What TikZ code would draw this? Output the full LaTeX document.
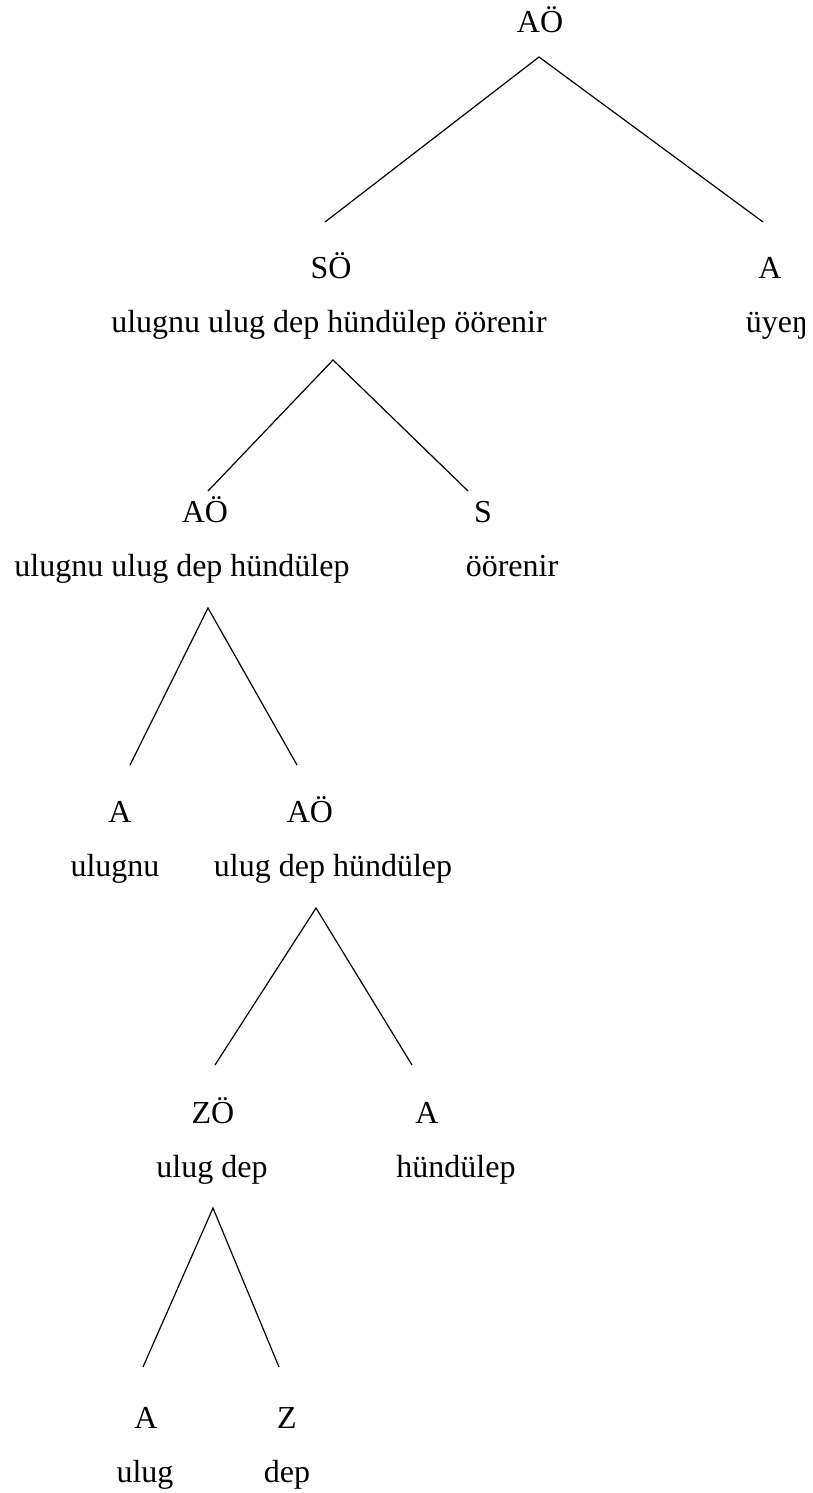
\documentclass[tikz,border=0pt]{standalone}
\usepackage{fontspec}
\setmainfont{Liberation Serif}
\begin{document}
\begin{tikzpicture}[x=0.75pt,y=-0.75pt,
  lbl/.style={anchor=base,inner sep=0pt,font=\fontsize{24}{28}\selectfont},
  edge/.style={draw=black,line width=0.9pt}]
\useasboundingbox (0,0) rectangle (813,1493);
% row 0
\node[lbl] (r) at (540,32) {AÖ};
% row 1
\node[lbl] (so) at (331,278) {SÖ};
\node[lbl] (sow) at (329,332) {ulugnu ulug dep hündülep öörenir};
\node[lbl] (a1) at (770,278) {A};
\node[lbl] (a1w) at (777,332) {üyeŋ};
% row 2
\node[lbl] (ao2) at (205,522) {AÖ};
\node[lbl] (ao2w) at (182,576) {ulugnu ulug dep hündülep};
\node[lbl] (s2) at (483,522) {S};
\node[lbl] (s2w) at (512,576) {öörenir};
% row 3
\node[lbl] (a3) at (120,822) {A};
\node[lbl] (a3w) at (115,876) {ulugnu};
\node[lbl] (ao3) at (310,822) {AÖ};
\node[lbl] (ao3w) at (333,876) {ulug dep hündülep};
% row 4
\node[lbl] (zo4) at (213,1123) {ZÖ};
\node[lbl] (zo4w) at (212,1177) {ulug dep};
\node[lbl] (a4) at (427,1123) {A};
\node[lbl] (a4w) at (456,1177) {hündülep};
% row 5
\node[lbl] (a5) at (146,1428) {A};
\node[lbl] (a5w) at (145,1482) {ulug};
\node[lbl] (z5) at (287,1428) {Z};
\node[lbl] (z5w) at (287,1482) {dep};
% branch points
\coordinate (p0) at (539,57);
\coordinate (p0l) at (325,222);
\coordinate (p0r) at (763,222);
\coordinate (p1) at (333,360);
\coordinate (p1l) at (208,491);
\coordinate (p1r) at (468,491);
\coordinate (p2) at (208,608);
\coordinate (p2l) at (130,765);
\coordinate (p2r) at (297,765);
\coordinate (p3) at (316,908);
\coordinate (p3l) at (215,1065);
\coordinate (p3r) at (412,1065);
\coordinate (p4) at (213,1208);
\coordinate (p4l) at (143,1367);
\coordinate (p4r) at (279,1367);
\draw[edge] (p0l) -- (p0) -- (p0r);
\draw[edge] (p1l) -- (p1) -- (p1r);
\draw[edge] (p2l) -- (p2) -- (p2r);
\draw[edge] (p3l) -- (p3) -- (p3r);
\draw[edge] (p4l) -- (p4) -- (p4r);
\end{tikzpicture}
\end{document}
